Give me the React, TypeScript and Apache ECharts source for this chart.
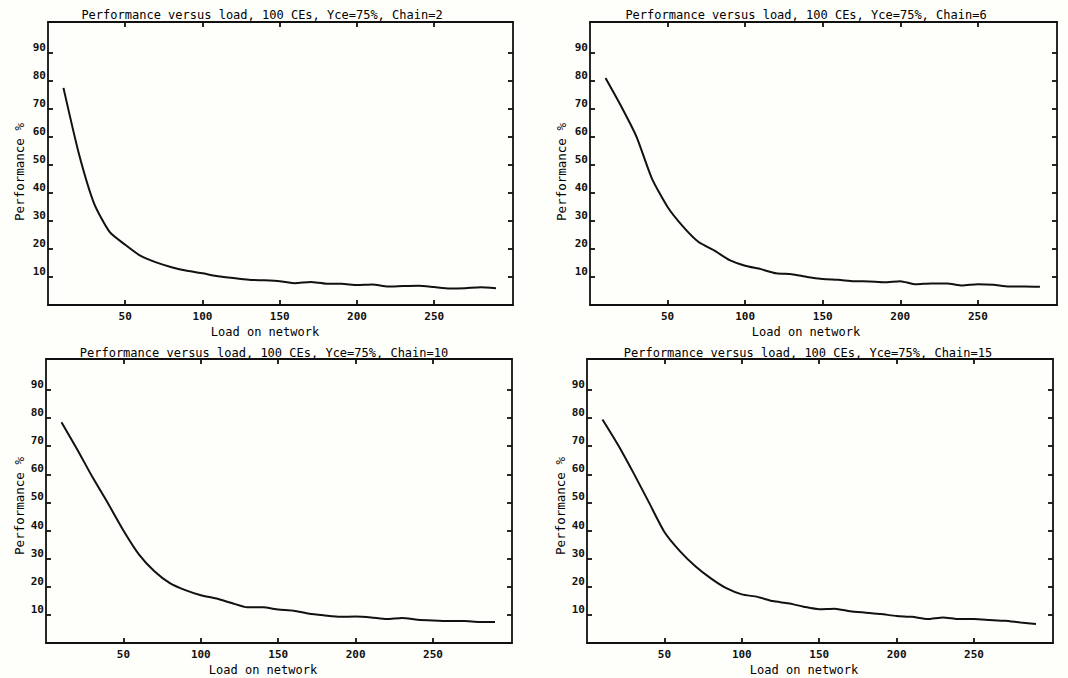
import React, { useEffect, useRef } from "react";
import * as echarts from "echarts";

const loads = [10, 20, 30, 40, 50, 60, 70, 80, 90, 100, 110, 120, 130, 140, 150, 160, 170, 180, 190, 200, 210, 220, 230, 240, 250, 260, 270, 280, 290];

const chain2 = [77.5, 54, 36, 26, 21.5, 17.5, 15.2, 13.5, 12.2, 11.3, 10.3, 9.6, 9.0, 8.8, 8.5, 7.8, 8.2, 7.6, 7.6, 7.1, 7.3, 6.6, 6.8, 6.9, 6.4, 5.9, 6.0, 6.3, 6.0];
const chain6 = [81, 71, 60, 45, 35, 28, 22.5, 19.5, 16, 14, 12.8, 11.3, 11, 10, 9.3, 9.0, 8.5, 8.4, 8.1, 8.5, 7.4, 7.7, 7.7, 7.0, 7.4, 7.2, 6.6, 6.6, 6.5];
const chain10 = [78.5, 69, 59, 49.7, 40, 31.5, 25.5, 21.3, 18.8, 17, 15.8, 14.2, 12.7, 12.7, 11.9, 11.5, 10.4, 9.8, 9.3, 9.4, 9.1, 8.5, 8.9, 8.3, 8.0, 7.8, 7.8, 7.5, 7.5];
const chain15 = [79.5, 70.5, 60.5, 50, 39.5, 32.7, 27.3, 23, 19.5, 17.3, 16.4, 14.9, 14.1, 12.9, 12.0, 12.2, 11.3, 10.8, 10.3, 9.6, 9.3, 8.5, 9.1, 8.5, 8.5, 8.2, 7.9, 7.3, 6.8];

const titles = [
  "Performance versus load, 100 CEs, Yce=75%, Chain=2",
  "Performance versus load, 100 CEs, Yce=75%, Chain=6",
  "Performance versus load, 100 CEs, Yce=75%, Chain=10",
  "Performance versus load, 100 CEs, Yce=75%, Chain=15",
];
const xTicks = [50, 100, 150, 200, 250];
const yTicks = [10, 20, 30, 40, 50, 60, 70, 80, 90];
const xName = "Load on network";
const yName = "Performance %";

const FONT = "DejaVu Sans Mono";

export default function App() {
  const ref = useRef<HTMLDivElement>(null);
  useEffect(() => {
    if (!ref.current) return;
    const chart = echarts.init(ref.current, null, { renderer: "svg" });
    const panels = [
      { left: 48, top: 22, width: 465, height: 283, data: chain2, title: [262, 15], xn: [265, 332], yn: [19, 172] },
      { left: 590, top: 22, width: 467, height: 283, data: chain6, title: [806, 15], xn: [806, 332], yn: [561, 172] },
      { left: 46, top: 359, width: 466, height: 284, data: chain10, title: [264, 353], xn: [263, 670], yn: [19, 506] },
      { left: 587, top: 359, width: 466, height: 284, data: chain15, title: [808, 353], xn: [804, 670], yn: [560, 506] },
    ];
    const grid: any[] = [];
    const xAxis: any[] = [];
    const yAxis: any[] = [];
    const series: any[] = [];
    const graphic: any[] = [];
    const lineStyle = { color: "#111", width: 1.8 };
    const textStyle = { fontFamily: FONT, fontSize: 11, fontWeight: "bold", color: "#111" };
    panels.forEach((p, i) => {
      grid.push({ left: p.left, top: p.top, width: p.width, height: p.height, show: false });
      const xBase = {
        type: "value", gridIndex: i, min: 0, max: 301,
        axisLine: { show: true, onZero: false, lineStyle },
        axisTick: { show: true, inside: true, length: 5, customValues: xTicks, lineStyle },
        splitLine: { show: false },
      };
      xAxis.push({
        ...xBase, position: "bottom",
        axisLabel: { show: true, customValues: xTicks, margin: 6, ...textStyle },
      });
      xAxis.push({ ...xBase, position: "top", axisLabel: { show: false } });
      const yBase = {
        type: "value", gridIndex: i, min: 0, max: 101,
        axisLine: { show: true, onZero: false, lineStyle },
        axisTick: { show: true, inside: true, length: 5, customValues: yTicks, lineStyle },
        splitLine: { show: false },
      };
      yAxis.push({
        ...yBase, position: "left",
        axisLabel: { show: true, customValues: yTicks, margin: 2, verticalAlign: "bottom", ...textStyle },
      });
      yAxis.push({ ...yBase, position: "right", axisLabel: { show: false } });
      series.push({
        type: "line",
        xAxisIndex: i * 2,
        yAxisIndex: i * 2,
        data: loads.map((x, k) => [x, p.data[k]]),
        showSymbol: false,
        symbol: "none",
        lineStyle: { color: "#111", width: 2 },
        smooth: 0.2,
      });
      graphic.push({
        type: "text", x: p.title[0], y: p.title[1],
        style: { text: titles[i], font: `12px '${FONT}'`, fill: "#000", align: "center", verticalAlign: "middle" },
      });
      graphic.push({
        type: "text", x: p.xn[0], y: p.xn[1],
        style: { text: xName, font: `12px '${FONT}'`, fill: "#000", align: "center", verticalAlign: "middle" },
      });
      graphic.push({
        type: "text", x: p.yn[0], y: p.yn[1], rotation: Math.PI / 2,
        style: { text: yName, font: `12.5px '${FONT}'`, fill: "#000", align: "center", verticalAlign: "middle" },
      });
    });
    chart.setOption({
      animation: false,
      backgroundColor: "#fefefb",
      grid, xAxis, yAxis, series, graphic,
    });
    return () => chart.dispose();
  }, []);
  return <div ref={ref} style={{ position: "absolute", left: 0, top: 0, width: 1068, height: 678 }} />;
}
